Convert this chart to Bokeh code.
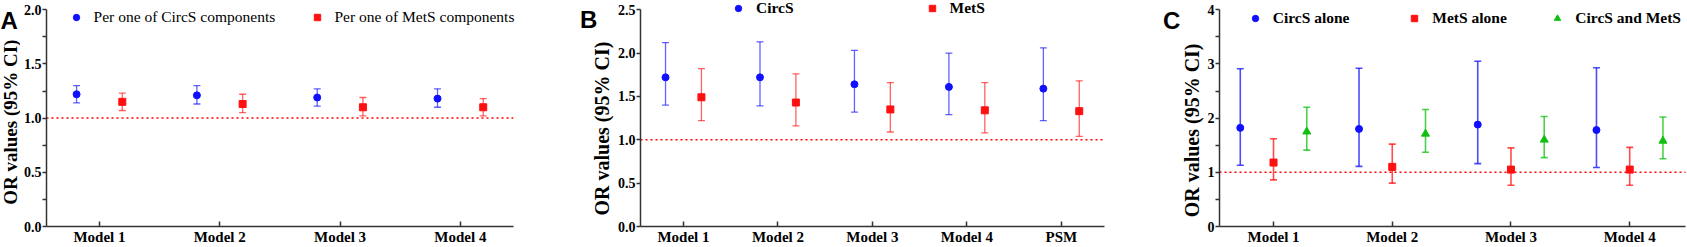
import numpy as np
from bokeh.plotting import figure
from bokeh.layouts import row
from bokeh.models import (Range1d, FixedTicker, NumeralTickFormatter, Whisker, TeeHead,
                          Legend, LegendItem, ColumnDataSource)
from bokeh.core.properties import value
from bokeh.embed import file_html
from bokeh.resources import INLINE

# ---------------- data ----------------
models_A = ["Model 1", "Model 2", "Model 3", "Model 4"]
circ_A = [1.22, 1.21, 1.19, 1.18]
circ_A_lo = [1.14, 1.13, 1.11, 1.10]
circ_A_hi = [1.30, 1.30, 1.27, 1.27]
mets_A = [1.15, 1.13, 1.10, 1.10]
mets_A_lo = [1.07, 1.05, 1.02, 1.02]
mets_A_hi = [1.23, 1.22, 1.19, 1.18]

models_B = ["Model 1", "Model 2", "Model 3", "Model 4", "PSM"]
circ_B = [1.72, 1.72, 1.64, 1.61, 1.59]
circ_B_lo = [1.40, 1.39, 1.32, 1.29, 1.22]
circ_B_hi = [2.12, 2.13, 2.03, 2.00, 2.06]
mets_B = [1.49, 1.43, 1.35, 1.34, 1.33]
mets_B_lo = [1.22, 1.16, 1.09, 1.08, 1.04]
mets_B_hi = [1.82, 1.76, 1.66, 1.66, 1.68]

models_C = ["Model 1", "Model 2", "Model 3", "Model 4"]
circ_C = [1.82, 1.80, 1.88, 1.78]
circ_C_lo = [1.13, 1.11, 1.16, 1.09]
circ_C_hi = [2.91, 2.92, 3.05, 2.93]
mets_C = [1.18, 1.10, 1.05, 1.05]
mets_C_lo = [0.86, 0.80, 0.76, 0.76]
mets_C_hi = [1.62, 1.52, 1.45, 1.46]
both_C = [1.75, 1.71, 1.60, 1.58]
both_C_lo = [1.41, 1.37, 1.27, 1.25]
both_C_hi = [2.20, 2.16, 2.03, 2.02]

Y_TITLE = "OR values (95% CI)"

BLUE = "#1010FF"
RED = "#FF1010"
GREEN = "#10C010"
SERIF = "Liberation Serif"
AXIS_COLOR = "#333333"

H = 247
BOTTOM = 19
FRAME_H = H - BOTTOM          # frame spans from canvas top to the x axis
AXIS_TOP_GAP = 9.3            # px between canvas top and top y tick


def make_fig(width, left, models, ymax, yticks, yminor, yfmt, pad_l, pad_r, axis_px):
    n = len(models)
    frame_w = width - left
    x0 = 1 - pad_l
    x_axis_end = n + pad_r
    x_end = x0 + (x_axis_end - x0) * frame_w / axis_px
    y_end = ymax * FRAME_H / (FRAME_H - AXIS_TOP_GAP)
    p = figure(width=width, height=H, output_backend="svg", toolbar_location=None,
               min_border_left=left, min_border_right=0, min_border_top=0, min_border_bottom=BOTTOM,
               x_range=Range1d(x0, x_end), y_range=Range1d(0, y_end))
    p.outline_line_color = None
    p.xgrid.visible = False
    p.ygrid.visible = False
    p.background_fill_color = "white"
    p.border_fill_color = "white"
    # x axis
    xa = p.xaxis[0]
    xa.bounds = (x0, x_axis_end)
    xa.ticker = FixedTicker(ticks=list(range(1, n + 1)))
    xa.major_label_overrides = {i + 1: m for i, m in enumerate(models)}
    xa.major_tick_in = 5
    xa.major_tick_out = 0
    xa.minor_tick_line_color = None
    xa.major_label_standoff = 2
    xa.major_label_text_font = SERIF
    xa.major_label_text_font_style = "bold"
    xa.major_label_text_font_size = "15px"
    xa.major_label_text_color = "black"
    xa.axis_line_width = 1.5
    xa.axis_line_color = AXIS_COLOR
    xa.major_tick_line_width = 1.5
    xa.major_tick_line_color = AXIS_COLOR
    # y axis
    ya = p.yaxis[0]
    ya.bounds = (0, ymax)
    ya.ticker = FixedTicker(ticks=yticks, minor_ticks=yminor)
    ya.formatter = NumeralTickFormatter(format=yfmt)
    ya.major_tick_in = 0
    ya.major_tick_out = 4
    ya.minor_tick_in = 0
    ya.minor_tick_out = 4
    ya.major_label_standoff = 1
    ya.major_label_text_font = SERIF
    ya.major_label_text_font_style = "bold"
    ya.major_label_text_font_size = "14px"
    ya.major_label_text_color = "black"
    ya.axis_line_width = 1.5
    ya.axis_line_color = AXIS_COLOR
    ya.major_tick_line_width = 1.5
    ya.major_tick_line_color = AXIS_COLOR
    ya.minor_tick_line_width = 1.5
    ya.minor_tick_line_color = AXIS_COLOR
    # dotted reference line at OR = 1, along the x axis extent
    p.segment(x0=[x0], x1=[x_axis_end], y0=[1], y1=[1], line_color="red",
              line_dash="2 3", line_width=1.5)
    return p


def make_gutter(width, letter, letter_x, letter_base, title_cx, title_cy, title_size):
    """Narrow strip left of each panel holding the panel letter and the y-axis title."""
    g = figure(width=width, height=H, output_backend="svg", toolbar_location=None,
               min_border=0, x_axis_type=None, y_axis_type=None,
               x_range=Range1d(0, width), y_range=Range1d(0, H))
    g.outline_line_color = None
    g.background_fill_color = "white"
    g.border_fill_color = "white"
    g.text(x=[letter_x], y=[H - letter_base], text=[letter], text_font=value("Liberation Sans"),
           text_font_style="bold", text_font_size="24px", text_baseline="alphabetic",
           text_align="left", text_color="black")
    g.text(x=[title_cx], y=[H - title_cy], text=[Y_TITLE], angle=np.pi / 2,
           text_font=value(SERIF), text_font_style="bold", text_font_size=title_size,
           text_baseline="middle", text_align="center", text_color="black")
    return g


def add_series(p, xpos, y, lo, hi, color, marker, size, bar_w, bar_alpha):
    src = ColumnDataSource(dict(x=xpos, y=y, lo=lo, hi=hi))
    w = Whisker(source=src, base="x", upper="hi", lower="lo", dimension="height",
                line_color=color, line_width=bar_w, line_alpha=bar_alpha,
                upper_head=TeeHead(size=7, line_color=color, line_width=bar_w, line_alpha=bar_alpha),
                lower_head=TeeHead(size=7, line_color=color, line_width=bar_w, line_alpha=bar_alpha))
    p.add_layout(w)
    r = p.scatter("x", "y", source=src, marker=marker, size=size, fill_color=color,
                  line_color=color)
    return r


def add_legend(p, label, r, vx, center_y, bold):
    # center_y: px from canvas top to the item's vertical centre
    vy = FRAME_H - (center_y + 9)
    lg = Legend(items=[LegendItem(label=label, renderers=[r])], location=(vx, vy),
                orientation="horizontal", padding=0, margin=0, spacing=0,
                glyph_width=16, glyph_height=18, label_height=18, label_standoff=10,
                border_line_color=None, background_fill_alpha=0,
                label_text_font=SERIF, label_text_font_size="15.5px",
                label_text_font_style="bold" if bold else "normal",
                label_text_color="black")
    p.add_layout(lg)


# ---------------- Panel A ----------------
gA = make_gutter(20, "A", 0, 22, 9.5, 133, "19px")
pA = make_fig(550, 24, models_A, 2.0, [0, 0.5, 1.0, 1.5, 2.0],
              [0.25, 0.75, 1.25, 1.75], "0.0", 0.44, 0.44, 468.6)
xA = np.arange(1, len(models_A) + 1)
rA1 = add_series(pA, xA - 0.19, circ_A, circ_A_lo, circ_A_hi, BLUE, "circle", 7, 1.3, 0.65)
rA2 = add_series(pA, xA + 0.19, mets_A, mets_A_lo, mets_A_hi, RED, "square", 7, 1.3, 0.65)
add_legend(pA, "Per one of CircS components", rA1, 21.6, 18.7, False)
add_legend(pA, "Per one of MetS components", rA2, 262.5, 18.7, False)

# ---------------- Panel B ----------------
gB = make_gutter(44, "B", 9.5, 21, 31.5, 140, "20px")
pB = make_fig(536, 23, models_B, 2.5, [0, 0.5, 1.0, 1.5, 2.0, 2.5], [], "0.0",
              0.455, 0.46, 467)
xB = np.arange(1, len(models_B) + 1)
rB1 = add_series(pB, xB - 0.19, circ_B, circ_B_lo, circ_B_hi, BLUE, "circle", 7, 1.3, 0.65)
rB2 = add_series(pB, xB + 0.19, mets_B, mets_B_lo, mets_B_hi, RED, "square", 7, 1.3, 0.65)
add_legend(pB, "CircS", rB1, 90, 10, True)
add_legend(pB, "MetS", rB2, 283.6, 10, True)

# ---------------- Panel C ----------------
gC = make_gutter(54, "C", 12.5, 21.5, 41.5, 142, "20px")
pC = make_fig(483, 12, models_C, 4, [0, 1, 2, 3, 4], [0.5, 1.5, 2.5, 3.5], "0",
              0.455, 0.47, 469)
xC = np.arange(1, len(models_C) + 1)
rC1 = add_series(pC, xC - 0.28, circ_C, circ_C_lo, circ_C_hi, BLUE, "circle", 7, 1.6, 0.75)
rC2 = add_series(pC, xC + 0.0, mets_C, mets_C_lo, mets_C_hi, RED, "square", 7, 1.6, 0.75)
rC3 = add_series(pC, xC + 0.28, both_C, both_C_lo, both_C_hi, GREEN, "triangle", 8, 1.6, 0.75)
add_legend(pC, "CircS alone", rC1, 27.7, 19.6, True)
add_legend(pC, "MetS alone", rC2, 187.3, 19.6, True)
add_legend(pC, "CircS and MetS", rC3, 330.3, 19.6, True)

layout = row(gA, pA, gB, pB, gC, pC, spacing=0)
open("out.html", "w").write(file_html(layout, INLINE))
